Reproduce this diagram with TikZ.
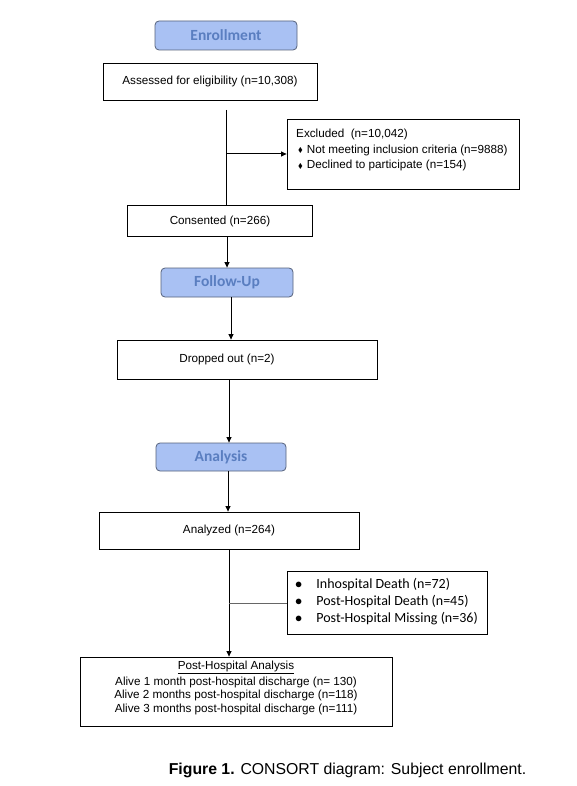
\documentclass[tikz,border=0pt]{standalone}
\usepackage{amssymb}
\usepackage{fontspec}
\setmainfont{Liberation Sans}
\newfontfamily\calfont{Carlito}
\usetikzlibrary{arrows.meta}
\definecolor{hdrfill}{HTML}{A9C1F3}
\definecolor{hdrdraw}{HTML}{55617A}
\definecolor{hdrtext}{HTML}{5A7EC0}
\tikzset{
  box/.style={draw=black, line width=0.8pt, fill=white, inner sep=0pt},
  hdr/.style={draw=hdrdraw, line width=0.8pt, fill=hdrfill, rounded corners=4pt,
    inner sep=0pt, text=hdrtext, font=\calfont\bfseries\fontsize{15.5}{17}\selectfont},
  txt/.style={font=\fontsize{11.7}{13}\selectfont, inner sep=0pt},
  etxt/.style={font=\fontsize{11.7}{13}\selectfont, inner sep=0pt},
  ctxt/.style={font=\calfont\fontsize{14}{15}\selectfont, inner sep=0pt},
  arr/.style={line width=1pt, -{Triangle[length=5.5pt,width=5pt]}},
  ln/.style={line width=1pt},
  gln/.style={line width=0.7pt, draw=black!60},
}
\newcommand{\dia}{\raisebox{0.3pt}{\scalebox{0.6}{$\blacklozenge$}}}
\begin{document}
\begin{tikzpicture}[x=1pt,y=-1pt]
\useasboundingbox (0,0) rectangle (577,786);
% header boxes
\node[hdr, minimum width=142, minimum height=29] (enr) at (226,35.5) {Enrollment};
\node[hdr, minimum width=132, minimum height=29] (follow) at (227,282.5) {Follow-Up};
\node[hdr, minimum width=130, minimum height=28] (analysis) at (221,457) {Analysis};
% boxes
\node[box, minimum width=214, minimum height=37] (assess) at (210,82) {};
\node[txt] (assesst) at (210,81) {Assessed for eligibility (n=10,308)};
\node[box, minimum width=232, minimum height=70] (excl) at (403,154) {};
\node[etxt, anchor=west] (ex1) at (296,134.5) {Excluded~~(n=10,042)};
\node[etxt, anchor=west] (ex2) at (298,150) {\dia\hspace{4pt}Not meeting inclusion criteria (n=9888)};
\node[etxt, anchor=west] (ex3) at (298,165.5) {\dia\hspace{4pt}Declined to participate (n=154)};
\node[box, minimum width=185, minimum height=31] (consent) at (219.5,220.5) {};
\node[txt] (consentt) at (220,221.5) {Consented (n=266)};
\node[box, minimum width=260, minimum height=39] (dropped) at (247,359.5) {};
\node[txt] (droppedt) at (227,359) {Dropped out (n=2)};
\node[box, minimum width=260, minimum height=37] (analyzed) at (229,530.5) {};
\node[txt] (analyzedt) at (229,530) {Analyzed (n=264)};
\node[box, minimum width=200, minimum height=63] (bul) at (387,603) {};
\node[ctxt, anchor=west] (b1) at (295,584.5) {$\bullet$\hspace{14pt}Inhospital Death (n=72)};
\node[ctxt, anchor=west] (b2) at (295,601.5) {$\bullet$\hspace{14pt}Post-Hospital Death (n=45)};
\node[ctxt, anchor=west] (b3) at (295,618.5) {$\bullet$\hspace{14pt}Post-Hospital Missing (n=36)};
\node[box, minimum width=312, minimum height=69] (final) at (236,691.5) {};
\node[txt] (f1) at (236,667.5) {\underline{Post-Hospital Analysis}};
\node[txt] (f2) at (236,682) {Alive 1 month post-hospital discharge (n= 130)};
\node[txt] (f3) at (236,695.5) {Alive 2 months post-hospital discharge (n=118)};
\node[txt] (f4) at (236,709) {Alive 3 months post-hospital discharge (n=111)};
% caption
\node[font=\fontsize{15.8}{18}\selectfont, inner sep=0pt] (cap) at (347.5,770) {\textbf{Figure 1.} CONSORT diagram: Subject enrollment.};
% connectors
\coordinate (v1) at (226,110);
\draw[ln] (v1) -- (v1 |- consent.north);
\draw[arr] (v1 |- excl.west) -- (excl.west);
\coordinate (v2) at (227,0);
\draw[arr] (v2 |- consent.south) -- (v2 |- follow.north);
\coordinate (v3) at (231,0);
\draw[arr] (v3 |- follow.south) -- (v3 |- dropped.north);
\coordinate (v4) at (229,0);
\draw[arr] (v4 |- dropped.south) -- (v4 |- analysis.north);
\coordinate (v5) at (228,0);
\draw[arr] (v5 |- analysis.south) -- (v5 |- analyzed.north);
\coordinate (v6) at (229,0);
\draw[arr] (v6 |- analyzed.south) -- (v6 |- final.north);
\draw[gln] (v6 |- bul.west) -- (bul.west);
\end{tikzpicture}
\end{document}
